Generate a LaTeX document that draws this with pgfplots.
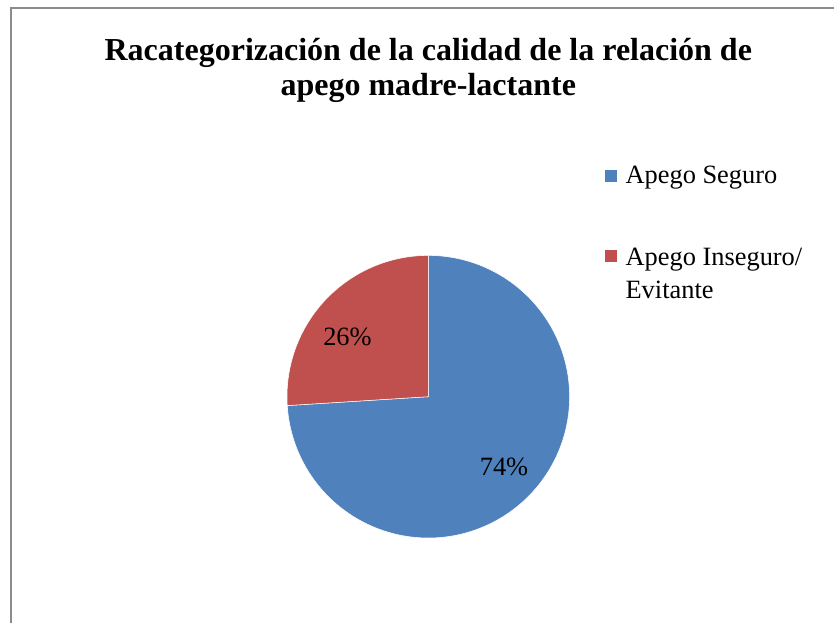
\documentclass[border=0pt]{standalone}
\usepackage{pgfplots}
\pgfplotsset{compat=1.18}
\usepackage{fontspec}
\setmainfont{Liberation Serif}
\definecolor{pieblue}{HTML}{4F81BD}
\definecolor{piered}{HTML}{C0504D}
\definecolor{framegray}{HTML}{8C8C8C}
\pgfplotsset{
  square legend/.style={legend image code/.code={\fill[##1] (0pt,-4.875pt) rectangle (9.75pt,4.875pt);}},
  raised legend/.style={legend image code/.code={\fill[##1] (0pt,8.625pt) rectangle (9.75pt,18.375pt);}},
}
% data (percent)
\def\valSeguro{74}
\def\valInseguro{26}
\begin{document}
\begin{tikzpicture}[x=0.75pt,y=0.75pt]
\useasboundingbox (-428.3,-225.3) rectangle (405.7,396.7);
\draw[framegray, line width=1.5pt] (-417.3,-300) -- (-417.3,388.7) -- (500,388.7);
\begin{axis}[at={(0,0)}, anchor=center, scale only axis,
  width=211.95pt, height=211.95pt,
  xmin=-1, xmax=1, ymin=-1, ymax=1, hide axis, clip=false,
  title={Racategorización de la calidad de la relación de\\apego madre-lactante},
  title style={font=\fontsize{24}{26.5}\selectfont\bfseries, align=center, at={(0.5,1.627)}, anchor=center},
  legend style={draw=none, fill=none, at={(1.108,1.335)}, anchor=north west,
    font=\fontsize{19.8}{24.75}\selectfont, legend cell align=left,
    nodes={align=left, inner sep=2pt}, row sep=42.5pt, column sep=3.75pt},
]
\addplot[fill=pieblue, draw=white, line width=0.4pt, square legend, domain=90:{90-3.6*\valSeguro}, samples=200, variable=\t]
  ({cos(\t)},{sin(\t)}) -- (axis cs:0,0) -- cycle;
\addlegendentry{Apego Seguro}
\addplot[fill=piered, draw=white, line width=0.4pt, raised legend, domain={90-3.6*\valSeguro}:{-270}, samples=100, variable=\t]
  ({cos(\t)},{sin(\t)}) -- (axis cs:0,0) -- cycle;
\addlegendentry{Apego Inseguro/\\Evitante}
\node[font=\fontsize{19.8}{24}\selectfont] at (axis cs:-0.572,0.425) {26\%};
\node[font=\fontsize{19.8}{24}\selectfont] at (axis cs:0.536,-0.495) {74\%};
\end{axis}
\end{tikzpicture}
\end{document}
